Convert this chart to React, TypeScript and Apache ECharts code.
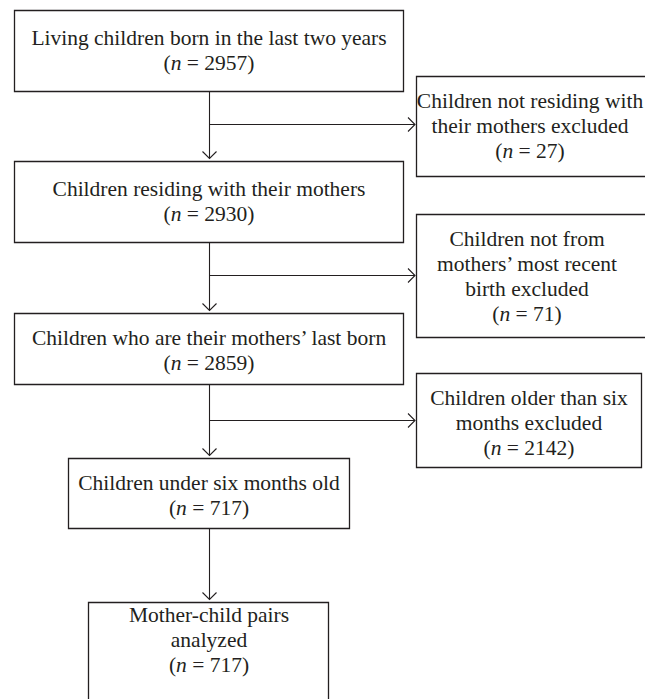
import React, { useEffect, useRef } from "react";
import * as echarts from "echarts";

// Flowchart content
const mainLabels: string[][] = [
  ["Living children born in the last two years"],
  ["Children residing with their mothers"],
  ["Children who are their mothers’ last born"],
  ["Children under six months old"],
  ["Mother-child pairs", "analyzed"],
];
const mainCounts: number[] = [2957, 2930, 2859, 717, 717];
const exclLabels: string[][] = [
  ["Children not residing with", "their mothers excluded"],
  ["Children not from", "mothers’ most recent", "birth excluded"],
  ["Children older than six", "months excluded"],
];
const exclCounts: number[] = [27, 71, 2142];

// Layout (pixels)
const mainRects = [
  [14, 10, 389, 81],
  [14, 161, 389, 81],
  [14, 313, 389, 71],
  [68, 458, 281, 70],
  [88, 602, 240, 130],
];
const mainTextPos = [
  [209, 50],
  [209, 201],
  [209, 350],
  [209, 495],
  [209, 640],
];
const exclRects = [
  [416, 76, 250, 100],
  [416, 214, 250, 123],
  [416, 373, 225, 94],
];
const exclTextPos = [
  [530, 126],
  [527, 276],
  [529, 423],
];
const branchY = [124, 275, 420];

const INK = "#231f20";
const FONT = "'Liberation Serif', 'Times New Roman', serif";
const FS = 21.5;
const LH = 25;

function label(lines: string[], n: number) {
  return lines.join("\n") + "\n({i|n} = " + n + ")";
}

function textEl(x: number, y: number, txt: string) {
  return {
    type: "text",
    x,
    y,
    style: {
      text: txt,
      fill: INK,
      fontSize: FS,
      fontFamily: FONT,
      lineHeight: LH,
      align: "center",
      verticalAlign: "middle",
      textAlign: "center",
      textVerticalAlign: "middle",
      rich: {
        i: {
          fontStyle: "italic",
          fontSize: FS,
          fontFamily: FONT,
          lineHeight: LH,
          fill: INK,
        },
      },
    },
  };
}

function rectEl(r: number[]) {
  return {
    type: "rect",
    shape: { x: r[0] + 0.5, y: r[1] + 0.5, width: r[2], height: r[3] },
    style: { fill: "none", stroke: INK, lineWidth: 1.3 },
  };
}

function lineEl(x1: number, y1: number, x2: number, y2: number) {
  return {
    type: "line",
    shape: { x1, y1, x2, y2 },
    style: { stroke: INK, lineWidth: 1.1 },
  };
}

function arrowDown(x: number, y: number) {
  return {
    type: "polyline",
    shape: { points: [[x - 7, y - 7], [x, y], [x + 7, y - 7]] },
    style: { fill: "none", stroke: INK, lineWidth: 1.1 },
  };
}

function arrowRight(x: number, y: number) {
  return {
    type: "polyline",
    shape: { points: [[x - 7, y - 7], [x, y], [x - 7, y + 7]] },
    style: { fill: "none", stroke: INK, lineWidth: 1.1 },
  };
}

export default function App() {
  const ref = useRef<HTMLDivElement>(null);
  useEffect(() => {
    if (!ref.current) return;
    const chart = echarts.init(ref.current, undefined, { renderer: "svg" });
    const els: any[] = [];
    const cx = 209.5;
    mainRects.forEach((r, i) => {
      els.push(rectEl(r));
      els.push(textEl(mainTextPos[i][0], mainTextPos[i][1], label(mainLabels[i], mainCounts[i])));
    });
    exclRects.forEach((r, i) => {
      els.push(rectEl(r));
      els.push(textEl(exclTextPos[i][0], exclTextPos[i][1], label(exclLabels[i], exclCounts[i])));
    });
    // vertical connectors
    for (let i = 0; i < mainRects.length - 1; i++) {
      const top = mainRects[i][1] + mainRects[i][3] + 0.5;
      const tip = mainRects[i + 1][1] - 2.5;
      els.push(lineEl(cx, top, cx, tip));
      els.push(arrowDown(cx, tip));
    }
    // branches
    branchY.forEach((y) => {
      const yy = y + 0.5;
      const tip = 415;
      els.push(lineEl(cx, yy, tip, yy));
      els.push(arrowRight(tip, yy));
    });
    chart.setOption({
      animation: false,
      backgroundColor: "#ffffff",
      graphic: { elements: els },
    });
    return () => chart.dispose();
  }, []);
  return (
    <div
      ref={ref}
      style={{ position: "fixed", left: 0, top: 0, width: 645, height: 699, background: "#fff" }}
    />
  );
}
